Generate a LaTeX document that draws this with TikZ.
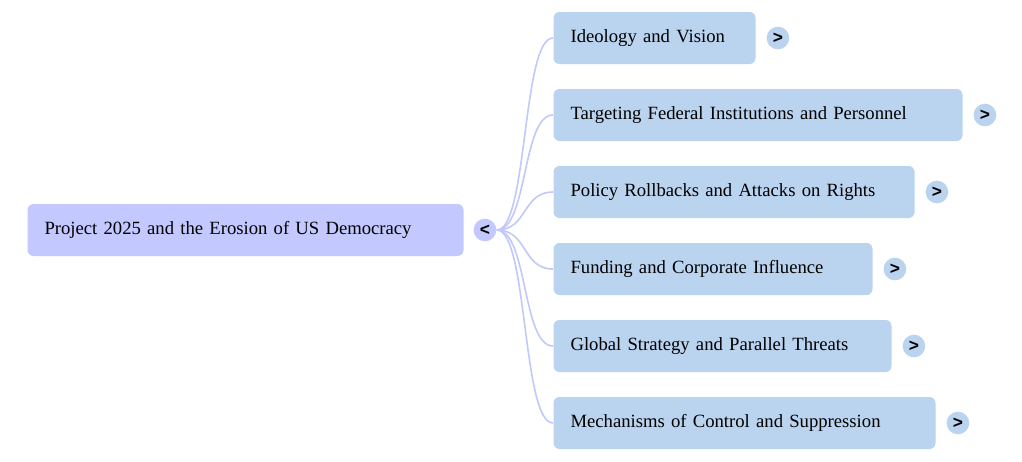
\documentclass[tikz,border=0pt]{standalone}
\usepackage{fontspec}
\setmainfont{Liberation Serif}
\setsansfont{Liberation Sans}
\usetikzlibrary{positioning}
\definecolor{rootblue}{HTML}{C3C8FE}
\definecolor{topicblue}{HTML}{BAD3EF}
\definecolor{linkblue}{HTML}{C3C8FB}
\begin{document}
\begin{tikzpicture}[x=0.75pt, y=-0.75pt, thick]
	\tikzstyle{box} = [rectangle, rounded corners=4.5pt, minimum height=39pt, inner xsep=12.75pt, align=left, anchor=west, font=\fontsize{14}{17}\selectfont]
	\tikzstyle{toggle} = [circle, minimum size=17pt, inner sep=0pt, font=\sffamily\bfseries\fontsize{13}{13}\selectfont]
	\useasboundingbox (0,0) rectangle (1022,461);
	\node (ROOT) [box, fill=rootblue, text width=301.5pt] at (27,230) {Project 2025 and the Erosion of US Democracy};
	\node (ROOT_TOG) [toggle, fill=rootblue, right=6.75pt of ROOT] {<};
	\node (C1) [box, fill=topicblue, text width=126pt] at (553,38) {Ideology and Vision};
	\node (C2) [box, fill=topicblue, text width=281.25pt] at (553,115) {Targeting Federal Institutions and Personnel};
	\node (C3) [box, fill=topicblue, text width=245.25pt] at (553,192) {Policy Rollbacks and Attacks on Rights};
	\node (C4) [box, fill=topicblue, text width=213.75pt] at (553,269) {Funding and Corporate Influence};
	\node (C5) [box, fill=topicblue, text width=228pt] at (553,346) {Global Strategy and Parallel Threats};
	\node (C6) [box, fill=topicblue, text width=261pt] at (553,423) {Mechanisms of Control and Suppression};
	\foreach \i in {1,...,6}{
		\node (C\i_TOG) [toggle, fill=topicblue, right=7.5pt of C\i] {>};
		\draw[linkblue, line width=1.2pt] (ROOT_TOG.east) .. controls +(31,0) and +(-31,0) .. (C\i.west);
	}
\end{tikzpicture}
\end{document}
